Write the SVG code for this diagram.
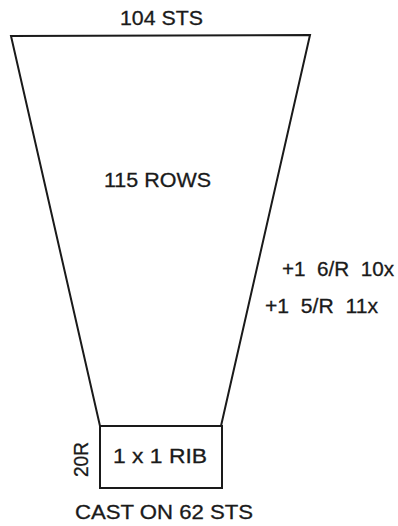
<svg xmlns="http://www.w3.org/2000/svg" width="398" height="526" viewBox="0 0 398 526">
<style>
.t{font-family:"Liberation Sans",Arial,sans-serif;font-size:20px;fill:#1a1a1a;stroke:#1a1a1a;stroke-width:0.3;white-space:pre}
.s{fill:none;stroke:#1a1a1a;stroke-width:2}
</style>
<rect width="398" height="526" fill="#fff"/>
<g id="body">
<polygon class="s" points="11,36 310,35 221,426 100,426"/>
<text class="t" x="120" y="25" textLength="83" lengthAdjust="spacingAndGlyphs">104 STS</text>
<text class="t" x="104" y="187" textLength="107" lengthAdjust="spacingAndGlyphs">115 ROWS</text>
</g>
<g id="rib">
<rect class="s" x="100" y="426" width="122" height="62"/>
<text class="t" x="113" y="463" textLength="94" lengthAdjust="spacingAndGlyphs">1 x 1 RIB</text>
<text class="t" transform="translate(88,477) rotate(-90)" textLength="35" lengthAdjust="spacingAndGlyphs">20R</text>
</g>
<g id="labels">
<text class="t" x="282" y="276" textLength="112" lengthAdjust="spacingAndGlyphs" xml:space="preserve">+1  6/R  10x</text>
<text class="t" x="265" y="313" textLength="113" lengthAdjust="spacingAndGlyphs" xml:space="preserve">+1  5/R  11x</text>
<text class="t" x="75" y="519" textLength="178" lengthAdjust="spacingAndGlyphs">CAST ON 62 STS</text>
</g>
</svg>
